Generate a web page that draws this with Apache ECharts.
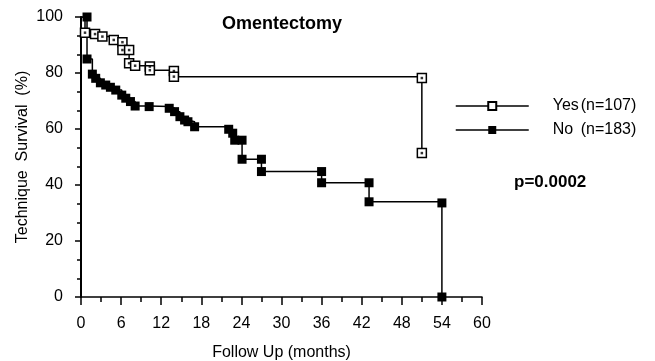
<!DOCTYPE html>
<html>
<head>
<meta charset="utf-8">
<script src="https://cdn.jsdelivr.net/npm/echarts@6/dist/echarts.min.js"></script>
<style>
html,body{margin:0;padding:0;background:#fff;}
#chart{width:655px;height:361px;}
</style>
</head>
<body>
<div id="chart"></div>
<script>
// ---- data ----
const titleText = 'Omentectomy';
const pValueText = 'p=0.0002';
const seriesNames = ['Yes', 'No'];
const seriesCounts = ['(n=107)', '(n=183)'];

const yesMonths   = [0, 0.6, 2.1, 3.2, 4.9, 6.2, 6.2, 7.2, 7.2, 8.1, 10.3, 10.3, 13.9, 13.9, 51, 51];
const yesSurvival = [100, 94.4, 93.9, 93, 91.8, 91, 88.2, 88.2, 83.5, 82.6, 82.3, 81, 80.7, 78.7, 78.2, 51.4];

const noMonths   = [0, 0.9, 0.9, 1.7, 2.2, 2.9, 3.7, 4.4, 5.2, 6.1, 6.7, 7.4, 8.1, 10.2, 13.2, 14.0, 14.8, 15.5, 16.0, 17.0, 22.1, 22.7, 23.0, 24.1, 24.1, 27, 27, 36, 36, 43.1, 43.1, 54, 54];
const noSurvival = [100, 100, 85, 79.6, 78.1, 76.5, 75.7, 74.9, 73.9, 72.1, 71, 69.8, 68.2, 68, 67.4, 66.2, 64.4, 63.2, 62.6, 60.8, 59.9, 58.5, 56, 56, 49.2, 49.2, 44.8, 44.8, 40.8, 40.8, 34, 33.6, 0];

const xTicks = [0, 6, 12, 18, 24, 30, 36, 42, 48, 54, 60];
const yTicks = [0, 20, 40, 60, 80, 100];

// ---- build ----
const FONT = "'Liberation Sans Narrow', 'Liberation Sans', Arial, sans-serif";
const FONTW = "'Liberation Sans', Arial, sans-serif";

function buildData(xs, ys) {
  return xs.map((x, i) => i === 0 ? { value: [x, ys[i]], symbol: 'none' } : [x, ys[i]]);
}
const yesData = buildData(yesMonths, yesSurvival);
const noData = buildData(noMonths, noSurvival);
const yesDots = yesMonths.slice(1).map((x, i) => [x, yesSurvival[i + 1]]);

const chart = echarts.init(document.getElementById('chart'), null, { renderer: 'canvas' });
chart.setOption({
  animation: false,
  backgroundColor: '#fff',
  title: [
    { text: titleText, left: 217, top: 10,
      textStyle: { fontFamily: FONTW, fontSize: 18, fontWeight: 'bold', color: '#000' } },
    { text: pValueText, left: 509, top: 169,
      textStyle: { fontFamily: FONTW, fontSize: 17, fontWeight: 'bold', color: '#000' } }
  ],
  legend: {
    data: seriesNames,
    orient: 'vertical',
    left: 450,
    top: 93,
    itemWidth: 73,
    itemHeight: 10,
    itemGap: 8,
    lineStyle: { color: '#000', width: 1.5 },
    formatter: function (name) {
      const i = seriesNames.indexOf(name);
      return '{s| }{n|' + name + '}{c|' + seriesCounts[i] + '}';
    },
    textStyle: {
      fontFamily: FONTW, fontSize: 16, color: '#000',
      rich: {
        s: { width: 19, fontSize: 16 },
        n: { width: 28, fontSize: 16, fontFamily: FONTW, color: '#000' },
        c: { fontSize: 16, fontFamily: FONTW, color: '#000' }
      }
    }
  },
  grid: { left: 81, right: 173, top: 17, bottom: 64, containLabel: false, outerBoundsMode: 'none' },
  xAxis: {
    type: 'value', min: 0, max: 60, interval: 6,
    name: 'Follow Up (months)', nameLocation: 'middle', nameGap: 48,
    nameTextStyle: { fontFamily: FONT, fontSize: 16, color: '#000' },
    axisLine: { show: true, onZero: false, lineStyle: { color: '#000', width: 1.5 } },
    axisTick: { show: true, length: 8, lineStyle: { color: '#000', width: 1.5 } },
    minorTick: { show: true, splitNumber: 2, length: 5, lineStyle: { color: '#000', width: 1.5 } },
    axisLabel: { margin: 19, fontFamily: FONT, fontSize: 16, color: '#000',
      customValues: xTicks },
    splitLine: { show: false }
  },
  yAxis: {
    type: 'value', min: 0, max: 100, interval: 20,
    name: 'Technique  Survival  (%)', nameLocation: 'middle', nameGap: 50, nameRotate: 90,
    nameMoveOverlap: false,
    nameTextStyle: { fontFamily: FONT, fontSize: 16, color: '#000' },
    axisLine: { show: true, onZero: false, lineStyle: { color: '#000', width: 2 } },
    axisTick: { show: true, length: 6, lineStyle: { color: '#000', width: 1.5 } },
    minorTick: { show: true, splitNumber: 3, length: 4, lineStyle: { color: '#000', width: 1.5 } },
    axisLabel: { margin: 18, fontFamily: FONT, fontSize: 16, color: '#000',
      customValues: yTicks },
    splitLine: { show: false }
  },
  series: [
    {
      name: 'Yes', type: 'line', step: 'end', data: yesData,
      symbol: 'rect', symbolSize: 9, showAllSymbol: true,
      lineStyle: { color: '#000', width: 1.5 },
      itemStyle: { color: '#fff', borderColor: '#000', borderWidth: 1.5 },
      z: 3
    },
    {
      name: 'YesDot', type: 'scatter', data: yesDots,
      symbol: 'rect', symbolSize: 2.5, silent: true,
      itemStyle: { color: '#000' }, z: 4
    },
    {
      name: 'No', type: 'line', step: 'end', data: noData,
      symbol: 'rect', symbolSize: 9, showAllSymbol: true,
      lineStyle: { color: '#000', width: 1.5 },
      itemStyle: { color: '#000', borderColor: '#000', borderWidth: 0 },
      z: 3
    }
  ]
});
</script>
</body>
</html>
